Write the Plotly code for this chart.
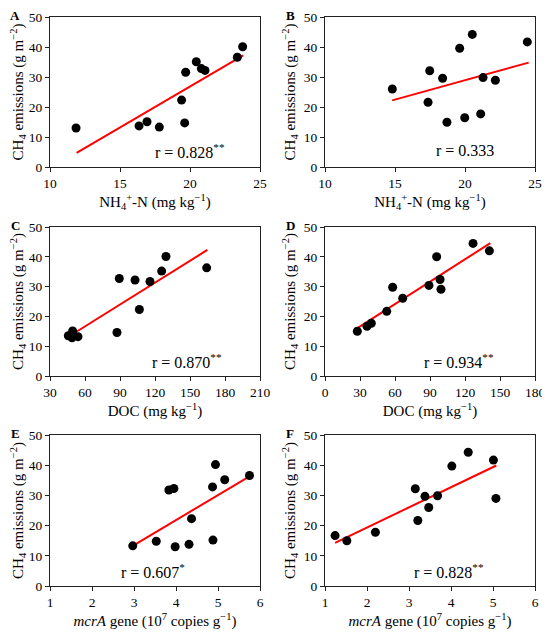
import plotly.graph_objects as go

# panel A - NH4+-N vs CH4 (dataset 1)
a_x = [11.86, 16.36, 16.93, 17.81, 19.40, 19.62, 19.69, 20.45, 20.81, 21.07, 23.38, 23.76]
a_y = [13.0, 13.7, 15.1, 13.3, 22.3, 14.7, 31.6, 35.1, 32.8, 32.2, 36.6, 40.1]
a_fit_x = [11.9, 23.8]
a_fit_y = [4.7, 37.2]

# panel B - NH4+-N vs CH4 (dataset 2)
b_x = [14.81, 17.36, 17.48, 18.40, 18.71, 19.62, 19.98, 20.52, 21.12, 21.29, 22.17, 24.45]
b_y = [26.0, 21.6, 32.1, 29.6, 14.9, 39.6, 16.4, 44.2, 17.7, 29.8, 28.9, 41.7]
b_fit_x = [14.8, 24.55]
b_fit_y = [22.2, 34.8]

# panel C - DOC vs CH4 (dataset 1)
c_x = [45.7, 49.4, 48.9, 54.0, 87.4, 89.4, 102.9, 106.6, 115.7, 125.7, 129.4, 164.3]
c_y = [13.5, 15.1, 12.8, 13.2, 14.6, 32.7, 32.2, 22.3, 31.7, 35.2, 40.1, 36.3]
c_fit_x = [45.1, 164.9]
c_fit_y = [13.0, 42.3]

# panel D - DOC vs CH4 (dataset 2)
d_x = [27.7, 36.0, 39.7, 52.9, 58.0, 66.6, 89.1, 95.7, 98.6, 99.4, 126.9, 140.9]
d_y = [15.0, 16.7, 17.7, 21.7, 29.8, 26.1, 30.4, 40.0, 32.4, 29.1, 44.5, 42.0]
d_fit_x = [27.1, 141.7]
d_fit_y = [15.9, 44.6]

# panel E - mcrA vs CH4 (dataset 1)
e_x = [2.97, 3.53, 3.83, 3.95, 3.98, 4.31, 4.37, 4.87, 4.88, 4.94, 5.16, 5.75]
e_y = [13.3, 14.8, 31.8, 32.3, 13.0, 13.8, 22.3, 32.8, 15.2, 40.2, 35.2, 36.6]
e_fit_x = [2.97, 5.75]
e_fit_y = [13.3, 36.3]

# panel F - mcrA vs CH4 (dataset 2)
f_x = [1.24, 1.52, 2.20, 3.15, 3.21, 3.38, 3.47, 3.68, 4.02, 4.41, 5.01, 5.07]
f_y = [16.7, 15.0, 17.8, 32.2, 21.7, 29.7, 26.0, 29.9, 39.7, 44.3, 41.7, 29.0]
f_fit_x = [1.24, 5.08]
f_fit_y = [14.3, 39.9]

panel_labels = ["A", "B", "C", "D", "E", "F"]
r_labels = ["r = 0.828<sup>**</sup>", "r = 0.333", "r = 0.870<sup>**</sup>",
            "r = 0.934<sup>**</sup>", "r = 0.607<sup>*</sup>", "r = 0.828<sup>**</sup>"]
x_titles = ["NH<sub>4</sub><sup>+</sup>-N (mg kg<sup>−1</sup>)"] * 2 + \
           ["DOC (mg kg<sup>−1</sup>)"] * 2 + \
           ["<i>mcrA</i> gene (10<sup>7</sup> copies g<sup>−1</sup>)"] * 2
y_title = "CH<sub>4</sub> emissions (g m<sup>−2</sup>)"
x_ranges = [[10, 25], [10, 25], [30, 210], [0, 180], [1, 6], [1, 6]]
x_dticks = [5, 5, 30, 30, 1, 1]

panels = [
    (a_x, a_y, a_fit_x, a_fit_y),
    (b_x, b_y, b_fit_x, b_fit_y),
    (c_x, c_y, c_fit_x, c_fit_y),
    (d_x, d_y, d_fit_x, d_fit_y),
    (e_x, e_y, e_fit_x, e_fit_y),
    (f_x, f_y, f_fit_x, f_fit_y),
]

W, H = 550, 639
OFF = 8  # the page body margin pushes the figure 8px right and down
FONT = "Liberation Serif, Times New Roman, serif"


def fx_(p):
    return (p - OFF) / W


def fy_(p):
    return 1 - (p - OFF) / H


# plot-area pixel boxes in the window (left, right, top, bottom)
col_px = [(50, 260), (325, 535)]
row_px = [(17, 167), (227, 376), (435, 586)]
r_pos = [(0.665, 0.11), (0.665, 0.11), (0.65, 0.10), (0.64, 0.10), (0.49, 0.10), (0.59, 0.10)]

fig = go.Figure()
layout = dict(
    width=W, height=H,
    margin=dict(l=0, r=0, t=0, b=0, pad=0),
    paper_bgcolor="white", plot_bgcolor="white",
    showlegend=False,
    font=dict(family=FONT, color="black", size=13),
    annotations=[],
)

for i, (px, py, lx, ly) in enumerate(panels):
    n = i + 1
    xa = "x" if n == 1 else f"x{n}"
    ya = "y" if n == 1 else f"y{n}"
    col = i % 2
    row = i // 2
    l, r = col_px[col]
    t, b = row_px[row]

    fig.add_trace(go.Scatter(x=lx, y=ly, mode="lines", xaxis=xa, yaxis=ya,
                             line=dict(color="red", width=2)))
    fig.add_trace(go.Scatter(x=px, y=py, mode="markers", xaxis=xa, yaxis=ya,
                             marker=dict(color="black", size=9)))

    axis_common = dict(
        showline=True, linecolor="#222", linewidth=1, mirror=True,
        ticks="outside", ticklen=4, tickcolor="#222",
        showgrid=False, zeroline=False, automargin=False,
        tickfont=dict(family=FONT, size=13.5, color="black"),
    )
    layout[f"xaxis{n}"] = dict(
        axis_common, domain=[fx_(l), fx_(r)], anchor=ya,
        range=x_ranges[i], dtick=x_dticks[i], tick0=x_ranges[i][0],
        title=dict(text=x_titles[i], font=dict(family=FONT, size=15), standoff=6),
    )
    layout[f"yaxis{n}"] = dict(
        axis_common, domain=[fy_(b), fy_(t)], anchor=xa,
        range=[0, 50], dtick=10,
        title=dict(text=y_title, font=dict(family=FONT, size=15), standoff=4),
    )

    layout["annotations"].append(dict(
        text=r_labels[i], xref=f"{xa} domain", yref=f"{ya} domain",
        x=r_pos[i][0], y=r_pos[i][1], xanchor="center", yanchor="middle",
        showarrow=False, font=dict(family=FONT, size=16, color="black"),
    ))
    layout["annotations"].append(dict(
        text=f"<b>{panel_labels[i]}</b>", xref="paper", yref="paper",
        x=fx_(l - 35), y=fy_(t - 2), xanchor="center", yanchor="middle",
        showarrow=False, font=dict(family=FONT, size=13, color="black"),
    ))

fig.update_layout(**layout)
fig.write_html("out.html")
